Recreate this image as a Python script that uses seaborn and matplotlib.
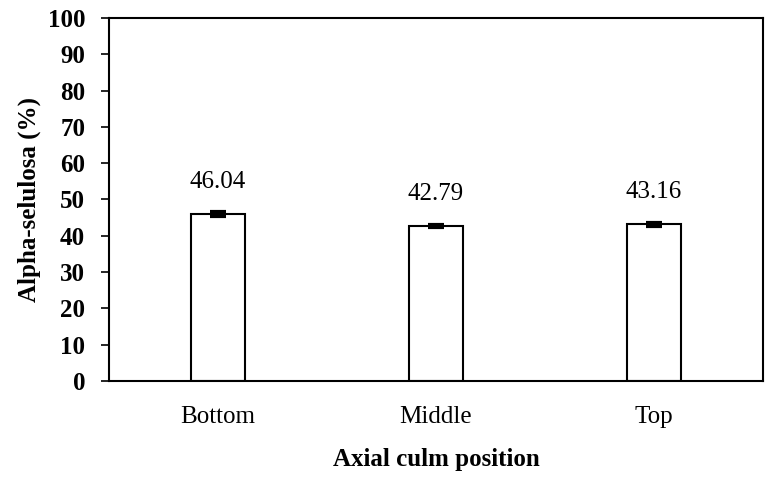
import matplotlib
matplotlib.use('Agg')
import matplotlib.pyplot as plt
import pandas as pd
import seaborn as sns

positions = ['Bottom', 'Middle', 'Top']
alpha_cellulose = [46.04, 42.79, 43.16]
std_err = [0.5, 0.25, 0.4]

df = pd.DataFrame({'position': positions, 'value': alpha_cellulose})

sns.set_style('white')
plt.rcParams['font.family'] = ['Liberation Serif', 'DejaVu Serif']
plt.rcParams.update({'text.color': 'black', 'axes.labelcolor': 'black',
                     'xtick.color': 'black', 'ytick.color': 'black'})

fig = plt.figure(figsize=(7.77, 4.83), dpi=100)
ax = fig.add_axes([0.140, 0.211, 0.842, 0.752])

sns.barplot(data=df, x='position', y='value', color='white', edgecolor='black',
            linewidth=1.5, width=0.25, errorbar=None, ax=ax)
ax.errorbar(range(len(positions)), alpha_cellulose, yerr=std_err, fmt='none',
            ecolor='black', elinewidth=1.5, capsize=6, capthick=3)

for i, v in enumerate(alpha_cellulose):
    ax.annotate('{:.2f}'.format(v), (i, v), xytext=(0, 23), textcoords='offset points',
                ha='center', va='center', fontsize=18)

ax.set_ylim(0, 100)
ax.set_xlim(-0.5, 2.5)
ax.set_yticks(range(0, 101, 10))
ax.tick_params(axis='y', direction='out', length=6, width=1.2, left=True, labelsize=18, pad=11)
ax.tick_params(axis='x', length=0, labelsize=18, pad=18)
for lab in ax.get_yticklabels():
    lab.set_fontweight('bold')

ax.set_xlabel('Axial culm position', fontsize=18, fontweight='bold', labelpad=14)
ax.set_ylabel('Alpha-selulosa (%)', fontsize=18, fontweight='bold', labelpad=5)

for s in ax.spines.values():
    s.set_visible(True)
    s.set_color('black')
    s.set_linewidth(1.5)

fig.savefig('out.png', dpi=100, facecolor='white')
